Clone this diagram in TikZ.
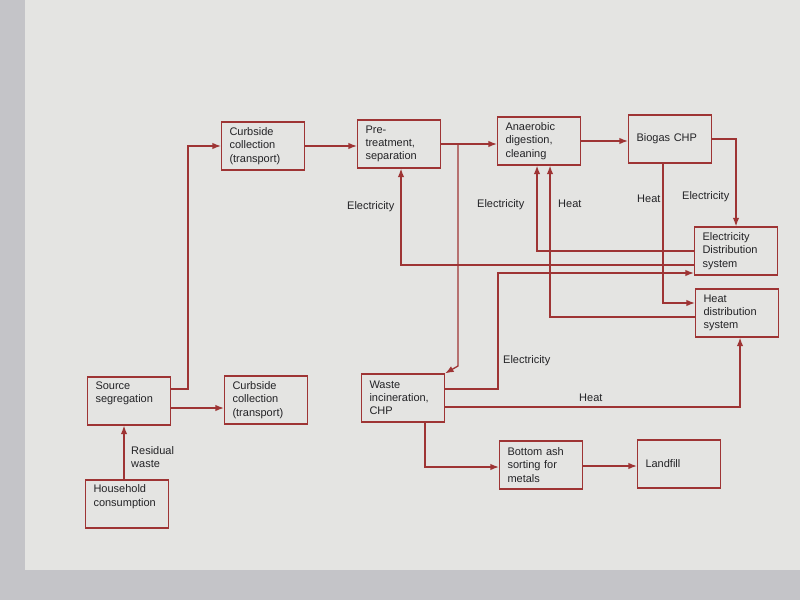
\documentclass[tikz,border=0pt]{standalone}
\usepackage{fontspec}
\setmainfont{Liberation Sans}
\usetikzlibrary{arrows.meta}
\definecolor{ln}{RGB}{158,52,52}
\definecolor{tx}{RGB}{35,35,38}
\definecolor{pagebg}{RGB}{228,228,226}
\definecolor{outbg}{RGB}{196,196,200}
\tikzset{
  box/.style={draw=ln, line width=1.3pt, minimum width=82pt, minimum height=48pt,
    text width=67pt, inner xsep=8pt, inner ysep=2pt, align=left, text=tx,
    font=\fontsize{11}{13.2}\selectfont},
  arr/.style={draw=ln, line width=1.3pt, -{Latex[length=8.5pt,width=6.5pt]}},
  lbl/.style={text=tx, font=\fontsize{11}{13.2}\selectfont, inner sep=0pt, align=left}
}
\begin{document}
\begin{tikzpicture}[x=1pt,y=-1pt]
\useasboundingbox (0,0) rectangle (800,600);
\fill[outbg] (0,0) rectangle (800,600);
\fill[pagebg] (25,0) rectangle (800,570);

% boxes
\node[box] (ct)  at (263,146) {Curbside\\collection\\(transport)};
\node[box] (pre) at (399,144) {Pre-\\treatment,\\separation};
\node[box] (ana) at (539,141) {Anaerobic\\digestion,\\cleaning};
\node[box] (bio) at (670,139) {Biogas CHP};
\node[box] (eds) at (736,251) {Electricity\\Distribution\\system};
\node[box] (hds) at (737,313) {Heat\\distribution\\system};
\node[box] (ss)  at (129,401) {Source\\segregation\\\strut};
\node[box] (cb)  at (266,400) {Curbside\\collection\\(transport)};
\node[box] (wi)  at (403,398) {Waste\\incineration,\\CHP};
\node[box] (ba)  at (541,465) {Bottom ash\\sorting for\\metals};
\node[box] (lf)  at (679,464) {Landfill};
\node[box] (hh)  at (127,504) {Household\\consumption\\\strut};

% connectors
\draw[arr] (hh.north -| 124,0) -- (ss.south -| 124,0);
\draw[arr] (ss.east |- 0,389) -- (188,389) |- (ct.west);
\draw[arr] (ss.east |- 0,408) -- (cb.west |- 0,408);
\draw[arr] (ct.east) -- (pre.west |- ct.east);
\draw[arr] (pre.east) -- (ana.west |- pre.east);
\coordinate (jn) at (458,144);
\draw[arr] (jn) -- (458,366) -- (wi.north east);
\draw[arr] (ana.east |- 0,141) -- (bio.west |- 0,141);
\draw[arr] (bio.east) -| (eds.north);
\draw[arr] (bio.south -| 663,0) |- (hds.west |- 0,303);
\draw[arr] (eds.west) -| (ana.south -| 537,0);
\draw[arr] (hds.west |- 0,317) -| (ana.south -| 550,0);
\draw[arr] (eds.west |- 0,265) -| (pre.south -| 401,0);
\draw[arr] (wi.east |- 0,389) -- (498,389) |- (eds.west |- 0,273);
\draw[arr] (wi.east |- 0,407) -| (hds.south -| 740,0);
\draw[arr] (wi.south -| 425,0) |- (ba.west |- 0,467);
\draw[arr] (ba.east |- 0,466) -- (lf.west |- 0,466);

% labels
\node[lbl, anchor=west] (l1) at (131,457) {Residual\\waste};
\node[lbl, anchor=west] (l2) at (347,207) {Electricity};
\node[lbl, anchor=west] (l3) at (477,205) {Electricity};
\node[lbl, anchor=west] (l4) at (558,204) {Heat};
\node[lbl, anchor=west] (l5) at (637,199) {Heat};
\node[lbl, anchor=west] (l6) at (682,197) {Electricity};
\node[lbl, anchor=west] (l7) at (503,361) {Electricity};
\node[lbl, anchor=west] (l8) at (579,398) {Heat};
\end{tikzpicture}
\end{document}
